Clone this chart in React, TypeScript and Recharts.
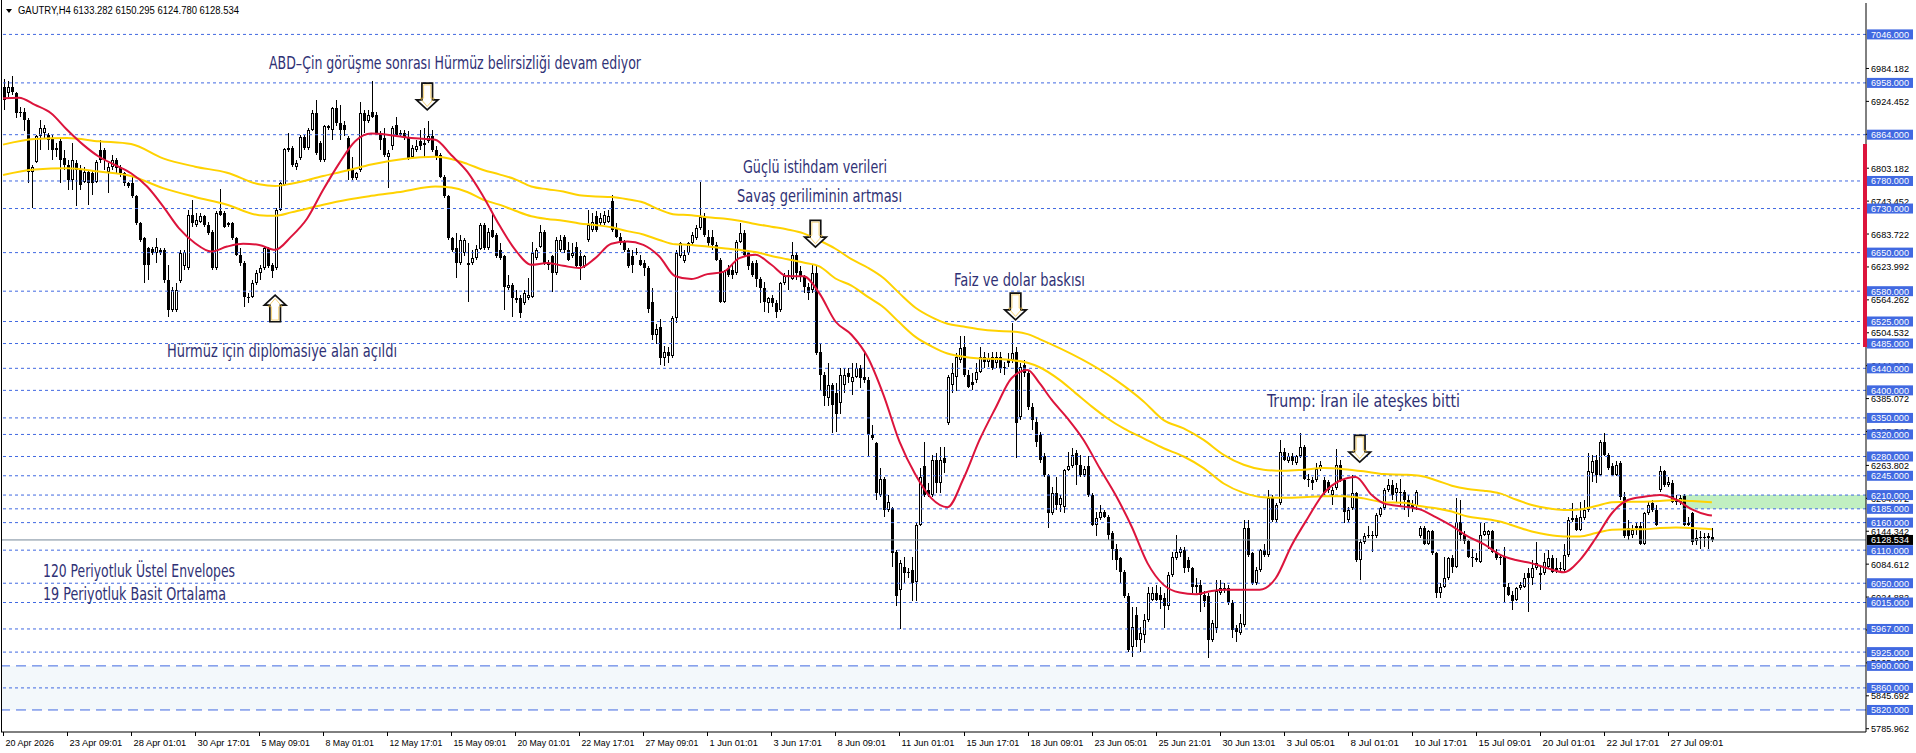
import React from 'react';
import { ComposedChart, Bar, Line, XAxis, YAxis, ReferenceLine, ReferenceArea, ReferenceDot } from 'recharts';

const W = 1916;
const H = 753;
const SLOTS = 466; // bars + empty space on the right (chart shift)
const AXIS_X = 1866;
const PLOT_BOTTOM = 732;

const timeLabels = [
  '20 Apr 2026', '23 Apr 09:01', '28 Apr 01:01', '30 Apr 17:01', '5 May 09:01', '8 May 01:01',
  '12 May 17:01', '15 May 09:01', '20 May 01:01', '22 May 17:01', '27 May 09:01', '1 Jun 01:01',
  '3 Jun 17:01', '8 Jun 09:01', '11 Jun 01:01', '15 Jun 17:01', '18 Jun 09:01', '23 Jun 05:01',
  '25 Jun 21:01', '30 Jun 13:01', '3 Jul 05:01', '8 Jul 01:01', '10 Jul 17:01', '15 Jul 09:01',
  '20 Jul 01:01', '22 Jul 17:01', '27 Jul 09:01',
];

// H4 bars: [open, high, low, close]
const candles: [number, number, number, number][] = [
  [6951,6965,6909,6927],[6939,6961,6933,6951],[6951,6970,6936,6942],[6939,6942,6894,6903],[6903,6915,6897,6906],
  [6906,6912,6870,6891],[6891,6894,6776,6797],[6797,6809,6731,6806],[6815,6864,6812,6861],[6861,6891,6836,6876],
  [6867,6882,6858,6876],[6864,6867,6836,6855],[6858,6864,6818,6836],[6840,6849,6824,6836],[6852,6858,6776,6818],
  [6821,6836,6800,6809],[6809,6818,6764,6782],[6782,6849,6764,6818],[6812,6818,6734,6800],[6800,6809,6764,6773],
  [6779,6806,6776,6797],[6797,6800,6737,6776],[6794,6800,6755,6776],[6779,6818,6776,6815],[6836,6855,6812,6818],
  [6836,6840,6800,6818],[6797,6812,6758,6806],[6806,6827,6800,6818],[6818,6821,6794,6803],[6806,6809,6788,6794],
  [6794,6797,6770,6776],[6776,6779,6767,6770],[6776,6788,6749,6752],[6752,6755,6700,6703],[6703,6706,6670,6673],
  [6676,6679,6594,6628],[6658,6661,6601,6628],[6656,6661,6646,6649],[6649,6676,6631,6660],[6655,6658,6646,6649],
  [6655,6658,6594,6601],[6601,6628,6534,6546],[6546,6588,6543,6582],[6546,6594,6543,6582],[6598,6655,6594,6649],
  [6625,6655,6619,6652],[6622,6728,6619,6719],[6719,6746,6697,6703],[6700,6722,6697,6709],[6706,6722,6703,6716],
  [6716,6719,6697,6700],[6700,6706,6682,6685],[6688,6691,6619,6622],[6622,6725,6619,6722],[6725,6765,6716,6719],
  [6722,6725,6694,6697],[6700,6706,6697,6703],[6703,6706,6673,6676],[6676,6679,6643,6646],[6646,6658,6625,6631],
  [6631,6634,6552,6570],[6570,6576,6558,6567],[6570,6601,6567,6595],[6595,6619,6591,6613],[6613,6628,6601,6622],
  [6622,6661,6619,6658],[6658,6661,6622,6625],[6628,6631,6604,6616],[6622,6731,6619,6728],[6728,6779,6725,6776],
  [6773,6840,6770,6838],[6836,6867,6833,6840],[6840,6843,6806,6809],[6806,6818,6800,6812],[6821,6864,6818,6859],
  [6859,6864,6836,6840],[6840,6876,6836,6873],[6873,6909,6870,6903],[6903,6927,6827,6830],[6849,6852,6815,6818],
  [6818,6882,6815,6879],[6879,6882,6873,6876],[6873,6915,6855,6912],[6912,6927,6879,6885],[6885,6918,6855,6873],
  [6882,6888,6861,6873],[6858,6861,6782,6800],[6800,6824,6781,6785],[6785,6797,6781,6794],[6800,6924,6797,6903],
  [6903,6909,6867,6888],[6888,6909,6885,6900],[6906,6961,6894,6897],[6900,6906,6864,6867],[6867,6870,6836,6855],
  [6858,6876,6824,6827],[6824,6836,6767,6830],[6843,6879,6836,6876],[6882,6897,6861,6864],[6864,6873,6861,6867],
  [6867,6873,6855,6858],[6858,6870,6818,6821],[6824,6846,6821,6840],[6836,6855,6833,6843],[6852,6873,6836,6843],
  [6846,6876,6821,6849],[6852,6888,6849,6862],[6861,6873,6833,6836],[6836,6843,6818,6824],[6827,6830,6785,6788],
  [6788,6791,6749,6752],[6752,6755,6673,6676],[6676,6679,6652,6655],[6658,6685,6604,6631],[6631,6682,6628,6673],
  [6649,6676,6643,6673],[6631,6667,6561,6628],[6631,6655,6628,6640],[6640,6664,6637,6656],[6656,6703,6655,6700],
  [6700,6703,6655,6658],[6658,6694,6655,6688],[6691,6722,6676,6679],[6682,6685,6640,6643],[6655,6667,6637,6640],
  [6643,6646,6546,6588],[6585,6610,6582,6591],[6591,6594,6534,6567],[6567,6582,6558,6564],[6567,6573,6531,6540],
  [6558,6582,6555,6576],[6567,6604,6564,6573],[6570,6670,6567,6649],[6640,6658,6637,6655],[6661,6700,6658,6688],
  [6688,6691,6628,6631],[6631,6637,6619,6628],[6643,6646,6579,6613],[6613,6679,6610,6673],[6655,6682,6652,6673],
  [6679,6682,6649,6655],[6655,6670,6634,6637],[6643,6667,6640,6649],[6661,6670,6622,6625],[6643,6655,6601,6625],
  [6625,6646,6622,6643],[6673,6728,6670,6700],[6691,6722,6688,6706],[6716,6725,6688,6691],[6703,6722,6700,6712],
  [6703,6725,6700,6719],[6706,6728,6703,6716],[6743,6755,6688,6691],[6694,6703,6676,6679],[6679,6685,6664,6667],
  [6670,6673,6652,6655],[6655,6658,6622,6625],[6643,6655,6613,6628],[6649,6658,6646,6652],[6637,6646,6625,6628],
  [6631,6637,6607,6622],[6622,6625,6540,6548],[6560,6585,6492,6500],[6500,6520,6485,6512],[6515,6530,6446,6458],
  [6458,6480,6444,6470],[6470,6478,6450,6462],[6462,6535,6458,6531],[6531,6655,6522,6649],[6643,6670,6640,6667],
  [6634,6655,6631,6646],[6649,6670,6646,6667],[6667,6688,6664,6682],[6676,6700,6673,6694],[6694,6779,6691,6715],
  [6715,6721,6679,6682],[6679,6691,6661,6667],[6679,6691,6655,6664],[6664,6670,6634,6637],[6637,6640,6558,6561],
  [6561,6619,6558,6616],[6622,6628,6606,6610],[6619,6631,6603,6610],[6613,6673,6610,6670],[6670,6703,6667,6685],
  [6685,6691,6643,6646],[6649,6655,6619,6625],[6631,6634,6606,6610],[6631,6637,6588,6603],[6603,6606,6558,6585],
  [6585,6597,6543,6561],[6558,6570,6540,6567],[6567,6573,6552,6558],[6558,6564,6531,6543],[6546,6597,6543,6594],
  [6594,6613,6591,6607],[6607,6619,6582,6610],[6603,6670,6600,6646],[6646,6652,6600,6613],[6616,6625,6597,6607],
  [6607,6610,6576,6588],[6588,6594,6564,6576],[6582,6628,6576,6613],[6613,6628,6464,6467],[6470,6485,6401,6428],
  [6428,6434,6371,6389],[6386,6449,6371,6410],[6410,6413,6322,6374],[6395,6413,6325,6358],[6377,6440,6358,6428],
  [6410,6440,6395,6428],[6431,6440,6413,6425],[6416,6449,6392,6425],[6425,6449,6422,6440],[6440,6446,6404,6422],
  [6425,6467,6413,6419],[6419,6425,6280,6319],[6319,6337,6310,6313],[6304,6307,6201,6213],[6210,6259,6207,6240],
  [6240,6243,6171,6183],[6183,6210,6180,6198],[6186,6189,6080,6104],[6107,6110,6008,6026],[6038,6092,5967,6086],
  [6080,6098,6050,6068],[6068,6077,6059,6071],[6074,6098,6017,6050],[6053,6159,6017,6156],[6156,6259,6153,6243],
  [6262,6307,6207,6210],[6219,6231,6207,6210],[6210,6283,6207,6274],[6274,6286,6213,6231],[6231,6298,6213,6274],
  [6277,6298,6250,6268],[6340,6428,6337,6425],[6410,6449,6395,6431],[6425,6467,6398,6461],[6455,6498,6449,6476],
  [6479,6498,6425,6428],[6428,6437,6404,6407],[6416,6431,6401,6410],[6419,6449,6413,6434],[6434,6479,6431,6461],
  [6461,6470,6440,6452],[6452,6467,6443,6458],[6461,6470,6437,6440],[6449,6470,6440,6461],[6461,6470,6431,6440],
  [6440,6452,6428,6443],[6455,6467,6443,6449],[6455,6523,6449,6467],[6470,6479,6277,6340],[6352,6449,6346,6443],
  [6446,6455,6425,6431],[6431,6437,6364,6370],[6370,6377,6328,6346],[6343,6352,6298,6307],[6319,6325,6268,6274],
  [6280,6286,6243,6246],[6246,6249,6150,6177],[6177,6225,6174,6213],[6213,6243,6183,6192],[6192,6210,6180,6204],
  [6189,6258,6177,6256],[6256,6289,6253,6262],[6262,6295,6259,6283],[6286,6292,6228,6265],[6265,6283,6243,6246],
  [6246,6262,6243,6258],[6262,6280,6207,6210],[6210,6213,6153,6156],[6156,6180,6135,6168],[6168,6192,6165,6180],
  [6180,6183,6168,6171],[6171,6174,6129,6138],[6141,6144,6092,6113],[6113,6122,6074,6092],[6095,6098,6050,6071],
  [6071,6074,6023,6026],[6026,6032,5926,5929],[5935,6007,5917,5971],[5992,6007,5935,5947],[5947,5971,5926,5959],
  [5956,5995,5941,5983],[5983,6044,5980,6032],[6020,6044,6017,6032],[6032,6047,6017,6020],[6029,6044,6004,6020],
  [6023,6032,5968,6008],[6008,6071,6001,6065],[6065,6107,6062,6098],[6095,6138,6092,6107],[6104,6116,6098,6113],
  [6110,6116,6068,6077],[6092,6098,6071,6077],[6077,6080,6032,6044],[6047,6059,6032,6044],[6047,6056,5998,6029],
  [6029,6035,6007,6017],[6026,6032,5914,5947],[5947,5983,5944,5977],[5968,6056,5959,6035],[6032,6056,6029,6041],
  [6041,6050,6032,6038],[6041,6047,6010,6014],[6014,6020,5950,5965],[5968,5974,5944,5962],[5959,5995,5956,5977],
  [5974,6165,5971,6150],[6150,6165,6098,6101],[6104,6107,6047,6050],[6050,6080,6047,6074],[6074,6113,6071,6110],
  [6110,6122,6098,6101],[6101,6219,6098,6204],[6204,6210,6162,6165],[6165,6195,6162,6192],[6195,6310,6192,6289],
  [6289,6295,6271,6274],[6271,6286,6268,6280],[6280,6286,6265,6271],[6268,6283,6265,6280],[6280,6322,6277,6298],
  [6298,6301,6237,6240],[6240,6249,6225,6237],[6237,6243,6219,6231],[6237,6268,6234,6258],[6258,6271,6253,6265],
  [6237,6243,6210,6213],[6234,6237,6213,6219],[6210,6225,6192,6219],[6222,6293,6219,6265],[6265,6274,6234,6237],
  [6237,6240,6159,6180],[6165,6189,6162,6183],[6186,6246,6183,6213],[6213,6216,6089,6092],[6092,6131,6056,6125],
  [6125,6141,6122,6135],[6135,6153,6132,6138],[6138,6144,6107,6135],[6135,6177,6132,6174],[6174,6189,6171,6186],
  [6186,6222,6183,6219],[6219,6240,6216,6228],[6228,6237,6201,6210],[6213,6231,6195,6222],[6216,6240,6189,6213],
  [6216,6219,6183,6201],[6201,6210,6171,6186],[6189,6201,6180,6192],[6190,6219,6183,6216],[6135,6153,6132,6150],
  [6150,6153,6119,6122],[6122,6147,6119,6144],[6144,6147,6101,6104],[6104,6107,6023,6032],[6032,6050,6023,6044],
  [6044,6098,6041,6059],[6059,6098,6056,6095],[6095,6101,6068,6080],[6080,6204,6077,6162],[6162,6201,6126,6138],
  [6138,6144,6122,6126],[6126,6129,6095,6098],[6098,6113,6080,6095],[6095,6104,6089,6092],[6089,6159,6086,6138],
  [6138,6159,6135,6144],[6138,6147,6113,6144],[6144,6147,6104,6107],[6107,6113,6092,6095],[6095,6101,6083,6098],
  [6098,6116,6014,6044],[6044,6050,6026,6029],[6029,6035,6001,6017],[6020,6044,6017,6041],[6041,6053,6038,6047],
  [6044,6068,6041,6059],[6068,6077,5998,6059],[6059,6092,6047,6077],[6077,6125,6074,6086],[6065,6080,6037,6068],
  [6068,6104,6065,6089],[6080,6110,6077,6095],[6095,6101,6068,6071],[6074,6095,6068,6077],[6075,6089,6071,6077],
  [6074,6122,6071,6101],[6101,6171,6098,6165],[6165,6195,6162,6168],[6168,6174,6144,6147],[6147,6198,6144,6171],
  [6168,6201,6165,6183],[6183,6286,6180,6253],[6250,6283,6234,6271],[6274,6283,6231,6247],[6247,6310,6244,6307],
  [6307,6322,6280,6283],[6283,6286,6256,6259],[6262,6268,6244,6247],[6247,6271,6244,6265],[6268,6271,6201,6207],
  [6207,6216,6132,6135],[6150,6165,6129,6135],[6138,6156,6132,6147],[6153,6159,6138,6150],[6153,6162,6119,6122],
  [6122,6180,6119,6177],[6177,6198,6174,6192],[6195,6201,6180,6183],[6183,6192,6153,6156],[6219,6263,6216,6253],
  [6253,6256,6225,6228],[6228,6243,6225,6234],[6231,6237,6195,6198],[6198,6210,6192,6201],[6198,6210,6192,6204],
  [6208,6212,6153,6156],[6156,6171,6153,6159],[6177,6180,6119,6125],[6127,6147,6119,6132],[6132,6144,6113,6133],
  [6132,6141,6116,6133],[6132,6141,6113,6135],[6133.282,6150.295,6124.78,6128.534],
];

// indicator readings: [bar index, price]
const smaPoints: [number, number][] = [
  [0,6930],[4,6931],[8,6918],[12,6903],[16,6873],[20,6846],[24,6824],[28,6809],[32,6794],[36,6770],
  [40,6734],[44,6694],[48,6667],[52,6652],[56,6661],[60,6666],[64,6664],[68,6655],[72,6679],[76,6712],
  [80,6764],[84,6812],[88,6852],[92,6866],[96,6864],[100,6860],[104,6857],[108,6855],[112,6827],[116,6797],
  [120,6752],[124,6700],[128,6655],[132,6628],[136,6631],[140,6626],[144,6622],[148,6640],[152,6666],[156,6670],
  [160,6664],[164,6643],[168,6607],[172,6602],[176,6611],[180,6615],[184,6640],[188,6646],[192,6628],[196,6607],
  [200,6607],[204,6576],[208,6525],[212,6501],[216,6461],[220,6392],[224,6307],[228,6247],[232,6204],[236,6188],
  [240,6240],[244,6310],[248,6368],[252,6422],[256,6437],[259,6413],[262,6383],[266,6349],[270,6310],[274,6259],
  [278,6210],[282,6153],[286,6086],[290,6047],[294,6033],[298,6030],[302,6036],[306,6038],[310,6038],[314,6038],
  [318,6059],[322,6119],[326,6168],[330,6213],[334,6236],[338,6243],[342,6210],[345,6195],[350,6189],[354,6184],
  [358,6170],[362,6154],[366,6135],[370,6121],[374,6102],[378,6092],[382,6086],[386,6077],[390,6070],[394,6092],
  [398,6132],[402,6177],[406,6201],[410,6207],[414,6210],[418,6202],[422,6184],[426,6174],[427,6173],
];

const envUpperPoints: [number, number][] = [
  [0,6846],[8,6856],[16,6858],[24,6852],[32,6847],[40,6821],[48,6806],[56,6795],[64,6774],[68,6771],
  [72,6775],[80,6789],[86,6799],[92,6810],[100,6820],[108,6824],[112,6820],[116,6811],[120,6800],[124,6792],
  [128,6783],[132,6770],[136,6765],[140,6761],[144,6754],[148,6752],[152,6751],[156,6747],[160,6741],[164,6728],
  [168,6719],[172,6718],[176,6714],[180,6712],[184,6708],[188,6702],[192,6697],[196,6692],[200,6685],[204,6672],
  [208,6657],[212,6638],[216,6623],[220,6604],[224,6576],[228,6550],[232,6533],[236,6521],[240,6516],[244,6511],
  [248,6508],[252,6507],[256,6502],[259,6493],[278,6419],[285,6380],[290,6346],[295,6331],[300,6310],[305,6283],
  [310,6265],[315,6256],[320,6254],[325,6256],[330,6259],[335,6257],[340,6253],[345,6248],[350,6247],[354,6245],
  [358,6237],[362,6227],[366,6221],[370,6218],[374,6213],[378,6202],[382,6192],[386,6186],[390,6183],[394,6184],
  [398,6190],[402,6197],[406,6198],[410,6198],[414,6199],[418,6201],[422,6199],[427,6197],
];

const envLowerPoints: [number, number][] = [
  [0,6791],[8,6801],[16,6803],[24,6797],[32,6789],[40,6767],[48,6751],[56,6737],[64,6718],[68,6717],
  [72,6723],[80,6737],[86,6746],[92,6753],[100,6761],[108,6770],[112,6768],[116,6760],[120,6746],[124,6737],
  [128,6726],[132,6716],[136,6711],[140,6708],[144,6703],[148,6700],[152,6696],[156,6689],[160,6683],[164,6673],
  [168,6665],[172,6664],[176,6661],[180,6658],[184,6655],[188,6651],[192,6644],[196,6638],[200,6632],[204,6625],
  [208,6603],[212,6590],[216,6570],[220,6551],[224,6523],[228,6497],[232,6480],[236,6467],[240,6461],[244,6458],
  [248,6457],[252,6455],[256,6450],[259,6442],[264,6419],[268,6395],[272,6371],[276,6349],[280,6331],[285,6313],
  [290,6295],[295,6280],[300,6259],[305,6231],[310,6214],[315,6206],[320,6205],[325,6206],[330,6208],[335,6208],
  [340,6204],[345,6197],[350,6196],[354,6190],[358,6186],[362,6180],[366,6171],[370,6167],[374,6162],[378,6153],
  [382,6144],[386,6138],[390,6135],[394,6135],[398,6141],[402,6147],[406,6148],[410,6148],[414,6150],[418,6151],
  [422,6150],[427,6148],
];

const levels = [7046, 6958, 6864, 6780, 6730, 6650, 6580, 6525, 6485, 6440, 6400, 6350, 6320, 6280, 6245,
  6210, 6185, 6160, 6110, 6050, 6015, 5967, 5925, 5860];
const longDashLevels = [5900, 5820];
const scaleTicks = [6984.182, 6924.452, 6864.722, 6803.182, 6743.452, 6683.722, 6623.992, 6564.262, 6504.532,
  6444.802, 6385.072, 6325.342, 6263.802, 6204.072, 6144.342, 6084.612, 6024.882, 5965.152, 5905.422,
  5845.692, 5785.962];
const lastPrice = 6128.534;
const zone = { from: 420, to: 465, low: 6185, high: 6210 };
const calmZone = { low: 5820, high: 5900 };

// arrows: [bar index, tip price, direction]
const arrows: [number, number, 'down' | 'up'][] = [
  [106, 6909, 'down'], [68, 6573, 'up'], [203, 6660, 'down'], [253, 6528, 'down'], [339, 6270, 'down'],
];

const notes = [
  { text: 'ABD–Çin görüşme sonrası Hürmüz belirsizliği devam ediyor', x: 269, y: 69, w: 372 },
  { text: 'Hürmüz için diplomasiye alan açıldı', x: 167, y: 357, w: 230 },
  { text: 'Güçlü istihdam verileri', x: 743, y: 173, w: 144 },
  { text: 'Savaş geriliminin artması', x: 737, y: 202, w: 165 },
  { text: 'Faiz ve dolar baskısı', x: 954, y: 286, w: 131 },
  { text: 'Trump: İran ile ateşkes bitti', x: 1267, y: 407, w: 193 },
  { text: '120 Periyotluk Üstel Envelopes', x: 43, y: 577, w: 192 },
  { text: '19 Periyotluk Basit Ortalama', x: 43, y: 600, w: 183 },
];

const headerText = 'GAUTRY,H4  6133.282 6150.295 6124.780 6128.534';

const smaMap = new Map(smaPoints);
const upMap = new Map(envUpperPoints);
const loMap = new Map(envLowerPoints);

const data = Array.from({ length: SLOTS }, (_, i) => {
  const c = candles[i];
  return {
    i,
    range: c ? [c[2], c[1]] : undefined,
    o: c ? c[0] : undefined,
    h: c ? c[1] : undefined,
    l: c ? c[2] : undefined,
    c: c ? c[3] : undefined,
    sma: smaMap.get(i),
    up: upMap.get(i),
    lo: loMap.get(i),
  };
});

const AXIS_FONT = "'Liberation Sans', 'DejaVu Sans', Arial, sans-serif";
const NOTE_FONT = "'Liberation Sans Narrow', 'DejaVu Sans Condensed', Roboto, 'Liberation Sans', sans-serif";

const CandleShape = (props: any) => {
  const { x, y, width, height, payload } = props;
  if (!payload || payload.o == null || !Number.isFinite(y) || !Number.isFinite(height)) return null;
  const { o, h, l, c } = payload;
  const top = Math.min(y, y + height);
  const bot = Math.max(y, y + height);
  const k = h > l ? (bot - top) / (h - l) : 0;
  const py = (p: number) => top + (h - p) * k;
  const cx = Math.round(x + width / 2);
  const bTop = Math.round(py(Math.max(o, c)));
  const bBot = Math.round(py(Math.min(o, c)));
  const bull = c >= o;
  let body;
  if (bBot - bTop < 2) {
    body = <rect x={cx - 1} y={bTop} width={3} height={1} fill="#000" />;
  } else if (bull) {
    body = <rect x={cx - 0.5} y={bTop + 0.5} width={2} height={bBot - bTop - 1} fill="#fff" stroke="#000" strokeWidth={1} />;
  } else {
    body = <rect x={cx - 1} y={bTop} width={3} height={bBot - bTop} fill="#000" />;
  }
  return (
    <g shapeRendering="crispEdges">
      <line x1={cx + 0.5} x2={cx + 0.5} y1={Math.round(top)} y2={Math.round(bot)} stroke="#000" strokeWidth={1} />
      {body}
    </g>
  );
};

const PriceTick = (props: any) => {
  const { y, payload } = props;
  const v = payload.value as number;
  const txt = v.toFixed(3);
  const isLevel = levels.includes(v) || longDashLevels.includes(v);
  if (v === lastPrice || isLevel) {
    return (
      <g>
        <rect x={AXIS_X + 1} y={y - 5} width={46} height={10} fill={v === lastPrice ? '#000' : '#4169E1'} />
        <text x={AXIS_X + 5} y={y + 3.5} fill="#fff" fontSize={9.5} fontFamily={AXIS_FONT}
          textLength={38} lengthAdjust="spacingAndGlyphs">{txt}</text>
      </g>
    );
  }
  return (
    <g>
      <line x1={AXIS_X} x2={AXIS_X + 3} y1={y} y2={y} stroke="#000" />
      <text x={AXIS_X + 5} y={y + 3.5} fill="#000" fontSize={9.5} fontFamily={AXIS_FONT}
        textLength={38} lengthAdjust="spacingAndGlyphs">{txt}</text>
    </g>
  );
};

const TimeTick = (props: any) => {
  const { x, payload } = props;
  const idx = payload.value as number;
  if (idx % 16 !== 0) return null;
  const label = timeLabels[idx / 16];
  if (!label) return null;
  const xr = Math.round(x) + 0.5;
  return (
    <g>
      <line x1={xr} x2={xr} y1={PLOT_BOTTOM} y2={PLOT_BOTTOM + 4} stroke="#000" />
      <text x={xr + 2} y={PLOT_BOTTOM + 14} fill="#000" fontSize={9.5} fontFamily={AXIS_FONT}
        textLength={label.length * 4.4} lengthAdjust="spacingAndGlyphs">{label}</text>
    </g>
  );
};

const ArrowMark = ({ cx, cy, dir }: { cx: number; cy: number; dir: 'down' | 'up' }) => {
  if (!Number.isFinite(cx) || !Number.isFinite(cy)) return null;
  const s = dir === 'down' ? -1 : 1; // direction from tip towards tail
  const pts = (d: number) => [
    [cx - 5.3 + d, cy + s * (26.7 - d)], [cx + 5.3 - d, cy + s * (26.7 - d)],
    [cx + 5.3 - d, cy + s * (10 + d)], [cx + 10.8 - 2.2 * d, cy + s * (10 + d)],
    [cx, cy + s * 2 * d], [cx - 10.8 + 2.2 * d, cy + s * (10 + d)],
    [cx - 5.3 + d, cy + s * (10 + d)],
  ].map((p) => p.join(',')).join(' ');
  return (
    <g>
      <polygon points={pts(0)} fill="#fff" stroke="#111" strokeWidth={1.7} strokeLinejoin="miter" />
      <polygon points={pts(1.7)} fill="none" stroke="#F0C040" strokeWidth={0.7} />
    </g>
  );
};

export default function App() {
  return (
    <div style={{ position: 'relative', width: W, height: H, background: '#fff' }}>
      <style>{'body{margin:0;background:#fff}'}</style>
      <ComposedChart width={W} height={H} data={data} margin={{ top: 3, right: 0, bottom: 0, left: 1 }}
        barCategoryGap={0}>
        <XAxis dataKey="i" type="category" interval={15} height={21} tickLine={false}
          axisLine={{ stroke: '#000' }} tick={<TimeTick />} />
        <YAxis orientation="right" type="number" domain={[5780, 7103]} allowDataOverflow width={50}
          ticks={[...scaleTicks, ...levels, ...longDashLevels, lastPrice]} interval={0}
          tickLine={false} axisLine={{ stroke: '#000' }} tick={<PriceTick />} />

        <ReferenceArea y1={calmZone.low} y2={calmZone.high} fill="#F3F8FB" fillOpacity={1} stroke="none" />
        <ReferenceArea x1={zone.from} x2={zone.to} y1={zone.low} y2={zone.high} fill="#C1EFC1"
          fillOpacity={1} stroke="none" />
        {levels.map((v) => (
          <ReferenceLine key={v} y={v} stroke="#4169E1" strokeDasharray="3 3" />
        ))}
        {longDashLevels.map((v) => (
          <ReferenceLine key={v} y={v} stroke="#4169E1" strokeDasharray="10 6" />
        ))}
        <ReferenceLine y={lastPrice} stroke="#778899" />

        <Bar dataKey="range" barSize={3} shape={<CandleShape />} isAnimationActive={false} />
        <Line dataKey="up" type="monotone" stroke="#FFD200" strokeWidth={2} dot={false} connectNulls
          isAnimationActive={false} />
        <Line dataKey="lo" type="monotone" stroke="#FFD200" strokeWidth={2} dot={false} connectNulls
          isAnimationActive={false} />
        <Line dataKey="sma" type="monotone" stroke="#DC143C" strokeWidth={2} dot={false} connectNulls
          isAnimationActive={false} />

        {arrows.map(([i, p, dir]) => (
          <ReferenceDot key={`a${i}`} x={i} y={p} r={0}
            shape={(sp: any) => <ArrowMark cx={sp.cx} cy={sp.cy} dir={dir} />} />
        ))}
      </ComposedChart>

      <svg width={W} height={H} style={{ position: 'absolute', left: 0, top: 0, pointerEvents: 'none' }}>
        <line x1={1.5} x2={1.5} y1={0} y2={PLOT_BOTTOM} stroke="#000" />
        <rect x={1863} y={144} width={4} height={203} fill="#DC143C" />
        <polygon points="6,9 12,9 9,13" fill="#000" />
        <text x={18} y={14} fontSize={10} fontFamily={AXIS_FONT} fill="#000" textLength={221}
          lengthAdjust="spacingAndGlyphs">{headerText}</text>
        {notes.map((n) => (
          <text key={n.text} x={n.x} y={n.y} fontSize={17} fontFamily={NOTE_FONT} fill="#2F3175"
            textLength={n.w} lengthAdjust="spacingAndGlyphs">{n.text}</text>
        ))}
      </svg>
    </div>
  );
}
